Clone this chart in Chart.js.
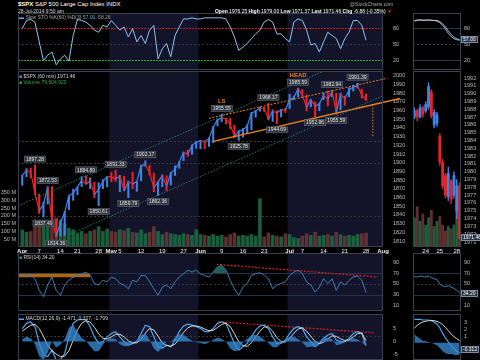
<!DOCTYPE html>
<html>
<head>
<meta charset="utf-8">
<script src="https://cdn.jsdelivr.net/npm/chart.js@4.4.1/dist/chart.umd.min.js"></script>
<style>
html, body { margin: 0; background: #000; width: 480px; height: 360px; overflow: hidden; font-family: "Liberation Sans", Arial, sans-serif; }
canvas { position: absolute; }
.t { position: absolute; white-space: nowrap; color: #d8d8d8; font-size: 5px; line-height: 6px; }
.vb { position: absolute; background: #2b3442; border: 1px solid #7d8ca3; color: #fff; font-size: 5px; line-height: 5px; padding: 0 1px; }
</style>
</head>
<body>
<canvas id="cSto" width="412" height="57" style="left:0;top:13px"></canvas>
<canvas id="cPrice" width="412" height="185" style="left:0;top:71px"></canvas>
<canvas id="cRsi" width="412" height="58" style="left:0;top:253px"></canvas>
<canvas id="cMacd" width="412" height="46" style="left:0;top:314px"></canvas>
<canvas id="mSto" width="75" height="57" style="left:405px;top:13px"></canvas>
<canvas id="mPrice" width="75" height="185" style="left:405px;top:71px"></canvas>
<canvas id="mRsi" width="75" height="58" style="left:405px;top:253px"></canvas>
<canvas id="mMacd" width="75" height="46" style="left:405px;top:314px"></canvas>

<div class="t" style="left:18px;top:1px;font-size:6px;line-height:7px;color:#fff"><b>$SPX</b> S&amp;P 500 Large Cap Index INDX</div>
<div class="t" style="left:18px;top:8px">28-Jul-2014 9:50 am</div>
<div class="t" style="left:350px;top:1px;color:#aaa">@StockCharts.com</div>
<div class="t" style="right:88px;top:8px;color:#fff"><b>Open</b> 1976.25 <b>High</b> 1979.00 <b>Low</b> 1971.37 <b>Last</b> 1971.46 <b>Chg</b> -6.88 (-0.35%)<span style="color:#e22"> ▼</span></div>
<div class="t" style="left:19px;top:14px;color:#aaa"><span style="color:#6aa8e0">▬</span> Slow STO %K(60) %D(3) <span style="color:#6aa8e0">57.00</span>, 58.26</div>
<div class="t" style="left:19px;top:73px"><span style="color:#4a8be8">■</span> $SPX (60 min) 1971.46</div>
<div class="t" style="left:19px;top:79px;color:#2ea84f"><span>■</span> Volume 79,604,920</div>
<div class="t" style="left:19px;top:254px"><span style="color:#3f7fb5">■</span> RSI(14) 34.20</div>
<div class="t" style="left:19px;top:315px"><span style="color:#4fa8ee">▬</span> MACD(12,26,9) -1.471, 0.327, -1.799</div>
<div class="vb" style="left:461px;top:36px">57.00</div>
<div class="vb" style="left:461px;top:234px">1971.46</div>
<div class="vb" style="left:461px;top:290px">34.20</div>
<div class="vb" style="left:461px;top:346px">-0.312</div>

<script>
// ---- daily data, 1 Apr .. 28 Jul 2014 (index = trading day) ----
const priceHigh = [1885.8,1893.2,1893.8,1897.3,1864.0,1854.9,1872.5,1872.5,1835.1,1834.2,
    1844.0,1862.3,1869.6,1871.9,1884.1,1884.9,1882.5,1877.7,1877.0,1880.6,
    1884.1,1888.6,1891.3,1885.5,1884.5,1878.8,1889.1,1878.6,1897.1,1902.2,
    1897.1,1888.0,1878.0,1886.0,1884.9,1888.8,1896.3,1901.3,1912.3,1914.5,
    1920.3,1924.0,1925.9,1925.1,1928.6,1941.7,1949.4,1955.6,1950.9,1950.8,
    1943.4,1937.3,1939.3,1943.7,1957.7,1960.0,1963.9,1963.7,1968.2,1960.8,
    1959.9,1961.5,1962.3,1978.6,1976.7,1985.6,1984.1,1977.9,1973.0,1969.8,
    1968.7,1979.9,1982.5,1982.9,1979.8,1979.9,1976.4,1986.2,1989.2,1991.4,
    1984.6,1979.0];
const priceLow = [1874.0,1883.8,1882.6,1863.3,1841.5,1837.5,1852.4,1831.9,1814.4,1815.8,
    1816.3,1846.1,1856.7,1863.2,1872.6,1875.0,1870.2,1859.7,1850.6,1870.0,
    1872.2,1878.0,1878.5,1866.8,1867.5,1859.8,1870.1,1867.1,1879.0,1896.0,
    1885.8,1866.5,1862.4,1872.4,1868.1,1874.3,1885.4,1893.6,1902.2,1907.3,
    1909.8,1916.6,1915.9,1916.0,1918.6,1922.9,1942.4,1947.2,1944.6,1939.3,
    1928.5,1925.8,1929.4,1933.6,1937.9,1952.3,1959.2,1958.9,1949.0,1947.5,
    1944.7,1952.6,1957.6,1962.3,1972.6,1975.7,1975.7,1959.5,1964.2,1952.9,
    1959.6,1972.6,1965.3,1975.7,1955.6,1960.8,1965.8,1975.7,1982.4,1985.8,
    1974.3,1971.4];
const priceClose = [1885.5,1890.9,1888.8,1865.1,1845.0,1852.0,1872.2,1833.1,1815.7,1830.6,
    1843.0,1862.3,1864.9,1871.9,1879.6,1875.4,1878.6,1863.4,1869.4,1878.3,
    1884.0,1883.7,1881.1,1884.7,1867.7,1878.2,1875.6,1878.5,1896.7,1897.5,
    1888.5,1870.9,1877.9,1885.1,1872.8,1888.0,1892.5,1900.5,1911.9,1909.8,
    1920.0,1923.6,1925.0,1924.2,1927.9,1940.5,1949.4,1951.3,1950.8,1943.9,
    1930.1,1936.2,1937.8,1942.0,1957.0,1959.5,1962.9,1962.6,1950.0,1959.5,
    1957.2,1961.0,1960.2,1973.3,1974.6,1985.4,1977.7,1963.7,1972.8,1964.7,
    1967.6,1977.1,1973.3,1981.6,1958.1,1978.2,1973.6,1983.5,1987.0,1988.0,
    1978.3,1971.5];
const volume = [110,95,100,150,160,150,130,170,185,160,
    150,120,110,90,100,85,100,110,130,100,
    115,100,95,110,105,120,95,90,110,85,
    95,130,100,80,95,85,80,75,85,80,
    75,110,80,75,70,80,70,75,65,80,
    90,70,75,70,80,70,310,65,90,75,
    70,65,85,80,60,55,70,85,75,95,
    70,75,80,70,95,80,70,75,70,80,
    85,90];
const stoK = [79,94,96,91,54,19,29,35,11,22,
    29,18,66,96,94,91,85,76,72,85,
    82,94,85,76,82,63,79,54,66,51,
    76,85,22,41,51,26,66,82,97,97,
    99,97,97,99,99,99,99,99,97,82,
    63,38,44,51,60,69,76,91,96,91,
    69,69,60,54,91,97,94,76,48,51,
    35,54,72,66,60,41,60,72,94,94,
    85,57];
const rsi = [66,63,67,60,38,26,48,63,38,29,
    48,57,63,65,69,72,66,51,48,57,
    54,63,60,51,48,41,57,54,66,66,
    54,41,29,44,48,41,54,63,69,76,
    72,76,69,66,63,72,82,85,76,57,
    41,29,44,51,66,69,71,67,60,41,
    48,51,54,66,72,76,69,54,48,35,
    44,60,51,60,38,54,48,57,63,65,
    57,34];
const macd = [5.0,7.0,7.6,5.7,-0.7,-5.2,-5.8,-3.3,-7.1,-7.0,
    -4.6,1.8,7.0,8.3,8.5,8.3,5.7,1.8,-0.7,0.0,
    1.8,3.1,3.8,1.8,0.0,-1.4,-0.7,0.0,3.1,6.3,
    5.7,1.8,-2.0,-2.6,-1.4,-2.0,0.6,3.8,6.0,6.7,
    6.3,5.7,5.0,3.8,3.8,5.0,7.0,7.6,7.0,3.1,
    -0.7,-3.3,-2.0,-0.7,1.8,4.4,6.0,6.3,5.0,1.8,
    -0.7,-0.7,0.6,3.1,5.0,5.7,5.0,1.8,0.0,-2.0,
    -0.7,1.2,2.5,3.1,0.6,0.0,0.0,1.2,3.1,3.8,
    3.1,-1.5];
const macdSignal = [4.0,5.2,6.3,6.6,5.0,2.0,-1.5,-3.5,-4.8,-5.8,
    -5.6,-3.5,0.5,4.5,7.0,8.0,7.5,5.5,3.0,1.2,
    1.0,1.8,2.8,2.8,1.8,0.3,-0.5,-0.5,0.8,3.2,
    5.0,4.5,2.0,-0.5,-1.5,-1.8,-1.0,1.0,3.5,5.3,
    6.0,6.0,5.6,4.8,4.2,4.3,5.4,6.6,7.1,5.8,
    3.0,0.0,-1.6,-1.8,-0.5,1.8,4.0,5.6,5.6,4.0,
    1.5,0.0,-0.2,1.2,3.2,4.8,5.3,4.0,2.0,0.0,
    -0.8,-0.3,1.0,2.2,2.0,1.0,0.4,0.6,1.8,3.0,
    3.3,0.3];
const macdHist = [1.0,1.8,1.3,-0.9,-5.7,-7.2,-4.3,0.2,-2.3,-1.2,
    1.0,5.3,6.5,3.8,1.5,0.3,-1.8,-3.7,-3.7,-1.2,
    0.8,1.3,1.0,-1.0,-1.8,-1.7,-0.2,0.5,2.3,3.1,
    0.7,-2.7,-4.0,-2.1,0.1,-0.2,1.6,2.8,2.5,1.4,
    0.3,-0.3,-0.6,-1.0,-0.4,0.7,1.6,1.0,-0.1,-2.7,
    -3.7,-3.3,-0.4,1.1,2.3,2.6,2.0,0.7,-0.6,-2.2,
    -2.2,-0.7,0.8,1.9,1.8,0.9,-0.3,-2.2,-2.0,-2.0,
    0.1,1.5,1.5,0.9,-1.4,-1.0,-0.4,0.6,1.3,0.8,
    -0.2,-1.8];

const xTickIdx = [0, 4, 9, 13, 18, 21, 23, 28, 33, 38, 42, 47, 52, 57, 63, 66, 71, 76, 81, 85];
const xTickLbl = ['Apr', '7', '14', '21', '28', 'May', '5', '12', '19', '27', 'Jun', '9', '16', '23', 'Jul', '7', '14', '21', '28', 'Aug'];
const monthNames = ['Apr', 'May', 'Jun', 'Jul', 'Aug'];
const monthBands = [[20.5, 41.5], [62.5, 86]];   // May and July shading
const X_MIN = -1, X_MAX = 85;

const priceTicks = [1810,1820,1830,1840,1850,1860,1870,1880,1890,1900,1910,1920,1930,1940,1950,1960,1970,1980,1990,2000];
const volTicks = [50, 100, 150, 200, 250, 300, 350];
const stoTicks = [20, 50, 80];
const rsiTicks = [10, 30, 50, 70, 90];
const macdTicks = [-5, 0, 5];

// pivot labels
const pivotDay   = [3, 6, 5, 8, 15, 18, 22, 25, 29, 32, 47, 51, 58, 60, 65, 69, 73, 74, 79];
const pivotPrice = [1897.28, 1872.53, 1837.49, 1814.36, 1884.89, 1850.61, 1891.33, 1859.79, 1902.17, 1862.36,
    1955.55, 1925.78, 1968.17, 1944.69, 1985.59, 1952.86, 1982.94, 1955.59, 1991.39];
const pivotHigh  = [1, 1, 0, 0, 1, 0, 1, 0, 1, 0, 1, 0, 1, 0, 1, 0, 1, 0, 1];
const pivotTag   = ['', '', '', '', '', '', '', '', '', '', 'LS', '', '', '', 'HEAD', '', '', '', 'RS'];

// trend lines [day, value]
const upperTeal = [[-1.6, 1849], [71.3, 2005.9]];
const lowerTeal = [[10.8, 1816.9], [87.8, 1983]];
const shoulderLine = [[44, 1951], [86, 1997]];
const neckLine = [[45, 1924.5], [89, 1973.8]];
const targetLine = [[82.6, 1966.7], [82.6, 1928.7]];
const rsiBand = [[-1, 66], [16, 66]];
const rsiTrend = [[45.8, 86.8], [83.8, 63]];
const rsiFillRange = [45, 48];
const macdTrend = [[46.2, 7.6], [82.7, 3.4]];

// right hand mini panel (last three sessions)
const miniOpen  = [1987.0,1987.8,1987.0,1988.2,1987.8,1988.3,1990.2,1986.0,1986.2,1984.5,1981.2,1979.5,1976.8,1978.8,1977.0,1975.0,1978.2];
const miniClose = [1987.8,1987.0,1988.2,1987.4,1988.6,1990.9,1987.2,1987.6,1987.3,1981.2,1978.2,1977.0,1979.8,1976.5,1979.5,1978.2,1971.5];
const miniHigh  = [1988.2,1988.0,1988.6,1988.4,1989.0,1991.4,1990.5,1988.0,1987.6,1984.9,1981.6,1979.8,1980.6,1979.0,1980.0,1979.0,1978.6];
const miniLow   = [1986.8,1986.5,1986.9,1987.0,1987.6,1988.0,1986.9,1985.6,1985.8,1980.8,1977.8,1976.6,1976.3,1975.9,1976.6,1974.0,1971.4];
const miniVol   = [40,55,35,45,30,40,50,28,35,42,30,22,28,25,30,65,35];
const miniStoK  = [94,95,95,94,95,95,94,94,93,90,85,78,70,64,60,58,57];
const miniStoD  = [93,94,95,95,94,95,95,94,94,92,88,82,75,68,63,60,58];
const miniRsi   = [64,63,65,64,63,65,62,60,58,50,46,45,47,44,42,38,34];
const miniMacd  = [3.5,3.5,3.5,3.4,3.4,3.4,3.3,3.1,2.8,2.2,1.4,0.7,0.1,-0.4,-0.9,-1.3,-1.5];
const miniSig   = [2.2,2.6,2.9,3.1,3.2,3.3,3.3,3.3,3.2,3.0,2.7,2.3,1.8,1.3,0.9,0.6,0.3];
const miniHist  = [1.3,0.9,0.6,0.3,0.2,0.1,0.0,-0.2,-0.4,-0.8,-1.3,-1.6,-1.7,-1.7,-1.8,-1.9,-1.8];
const miniTickIdx = [4, 9, 15];
const miniTickLbl = ['24', '25', '28'];
const miniPriceTicks = [1971,1972,1973,1974,1975,1976,1977,1978,1979,1980,1981,1982,1983,1984,1985,1986,1987,1988,1989,1990,1991,1992];

const BLUE = '#3f84e6', RED = '#e8232a', ORANGE = '#e8801c', TEAL = '#1d7a78';
const FONT = '"Liberation Sans", Arial, sans-serif';

Chart.defaults.font.family = FONT;
Chart.defaults.font.size = 5.5;
Chart.defaults.color = '#bdbdbd';
Chart.defaults.animation = false;
Chart.defaults.responsive = false;
Chart.defaults.plugins.legend.display = false;
Chart.defaults.plugins.tooltip.enabled = false;
Chart.defaults.elements.point.radius = 0;
Chart.defaults.elements.line.borderWidth = 1;

// ---- plugins ----
const bandPlugin = {
    id: 'bands',
    beforeDatasetsDraw(chart, args, opts) {
        if (!opts || !opts.on) return;
        const { ctx, chartArea: a, scales: { x } } = chart;
        ctx.save();
        ctx.fillStyle = '#13132a';
        monthBands.forEach(([s, e]) => {
            const x0 = Math.max(a.left, x.getPixelForValue(s));
            const x1 = Math.min(a.right, x.getPixelForValue(e));
            ctx.fillRect(x0, a.top, x1 - x0, a.bottom - a.top);
        });
        ctx.restore();
    }
};

const hlinePlugin = {
    id: 'hlines',
    beforeDatasetsDraw(chart, args, opts) {
        if (!opts || !opts.lines) return;
        const { ctx, chartArea: a } = chart;
        opts.lines.forEach(l => {
            const y = Math.round(chart.scales[l.axis || 'y'].getPixelForValue(l.v)) + 0.5;
            ctx.save();
            ctx.strokeStyle = l.color;
            ctx.lineWidth = l.w || 1;
            ctx.setLineDash(l.dash || []);
            ctx.beginPath(); ctx.moveTo(a.left, y); ctx.lineTo(a.right, y); ctx.stroke();
            ctx.restore();
        });
    }
};

const framePlugin = {
    id: 'frame',
    afterDraw(chart) {
        const { ctx, chartArea: a } = chart;
        ctx.save();
        ctx.strokeStyle = '#3a4252';
        ctx.lineWidth = 1;
        ctx.strokeRect(a.left + 0.5, a.top + 0.5, a.right - a.left - 1, a.bottom - a.top - 1);
        ctx.restore();
    }
};

Chart.register(bandPlugin, hlinePlugin, framePlugin);

const pivotPlugin = {
    id: 'pivots',
    afterDatasetsDraw(chart) {
        const { ctx, scales: { x, y } } = chart;
        ctx.save();
        ctx.textAlign = 'center';
        ctx.textBaseline = 'middle';
        pivotDay.forEach((d, i) => {
            const px = x.getPixelForValue(d);
            const py = y.getPixelForValue(pivotPrice[i]);
            const txt = pivotPrice[i].toFixed(2);
            ctx.font = '5px ' + FONT;
            const w = ctx.measureText(txt).width + 3, h = 6;
            const cy = pivotHigh[i] ? py - 6 : py + 6;
            ctx.fillStyle = '#2d323b';
            ctx.strokeStyle = '#6b717c';
            ctx.lineWidth = 0.6;
            ctx.fillRect(px - w / 2, cy - h / 2, w, h);
            ctx.strokeRect(px - w / 2, cy - h / 2, w, h);
            ctx.fillStyle = '#e6e6e6';
            ctx.fillText(txt, px, cy + 0.3);
            if (pivotTag[i]) {
                ctx.font = 'bold 6px ' + FONT;
                ctx.fillStyle = ORANGE;
                ctx.fillText(pivotTag[i], px, cy - 7);
            }
        });
        ctx.restore();
    }
};

// ---- helpers ----
const pts = arr => arr.map(([x, y]) => ({ x, y }));
const series = arr => arr.map((v, i) => ({ x: i, y: v }));
const noPad = s => { s.paddingLeft = 0; s.paddingRight = 0; s.paddingTop = 0; s.paddingBottom = 0; };

function timeAxis(withLabels) {
    const ax = { type: 'linear', min: X_MIN, max: X_MAX, offset: false, display: withLabels,
        grid: { display: false, drawTicks: false }, border: { display: false } };
    if (withLabels) {
        ax.afterBuildTicks = s => { s.ticks = xTickIdx.map(v => ({ value: v })); };
        ax.afterFit = s => { s.height = 9; noPad(s); };
        ax.ticks = {
            autoSkip: false, maxRotation: 0, padding: 1, color: '#eeeeee',
            font: c => ({ size: 6, weight: monthNames.includes(xTickLbl[c.index]) ? 'bold' : 'normal' }),
            callback: (v, i) => xTickLbl[i]
        };
    }
    return ax;
}

function sideAxis(min, max, ticks, width, fmt, pos) {
    const gap = pos === 'left' ? 0 : (width > 20 ? 8 : 1);
    return {
        position: pos || 'right', min, max,
        afterBuildTicks: s => { s.ticks = ticks.map(v => ({ value: v })); },
        afterFit: s => { s.width = width; noPad(s); },
        grid: { display: false, drawTicks: true, tickLength: gap },
        border: { display: false },
        ticks: { autoSkip: false, padding: 2, color: '#bbbbbb', font: { size: 5.5 }, callback: fmt || (v => v) }
    };
}

// ---- STO panel ----
new Chart(document.getElementById('cSto'), {
    type: 'line',
    data: { datasets: [{ data: series(stoK), borderColor: '#8cc4f0', borderWidth: 1 }] },
    options: {
        layout: { padding: { left: 18 } },
        scales: { x: timeAxis(false), y: sideAxis(1.25, 108.1, stoTicks, 29) },
        plugins: {
            bands: { on: true },
            hlines: { lines: [
                { v: 80, color: '#d0101a', dash: [2, 1], w: 1.2 },
                { v: 50, color: '#2c3a58', dash: [2, 2] },
                { v: 20, color: '#1cb51c', dash: [2, 1], w: 1.2 }
            ] }
        }
    }
});

// ---- price + volume panel ----
const dayColors = priceClose.map((c, i) => c >= (i ? priceClose[i - 1] : c) ? BLUE : RED);
const volColors = priceClose.map((c, i) => c >= (i ? priceClose[i - 1] : c) ? 'rgba(30,110,70,0.85)' : 'rgba(110,55,55,0.85)');

new Chart(document.getElementById('cPrice'), {
    type: 'bar',
    data: {
        datasets: [
            { type: 'bar', yAxisID: 'vol', data: series(volume), backgroundColor: volColors, barThickness: 3, grouped: false, order: 10 },
            { type: 'bar', yAxisID: 'y', data: priceHigh.map((h, i) => ({ x: i, y: [priceLow[i], h] })),
              backgroundColor: dayColors, barThickness: 1.4, grouped: false, order: 6 },
            { type: 'line', yAxisID: 'y', data: series(priceClose), borderWidth: 1.2, order: 5,
              segment: { borderColor: c => c.p1.parsed.y >= c.p0.parsed.y ? BLUE : RED } },
            { type: 'line', yAxisID: 'y', data: pts(upperTeal), borderColor: TEAL, borderDash: [1.5, 1.5], order: 1 },
            { type: 'line', yAxisID: 'y', data: pts(lowerTeal), borderColor: TEAL, borderDash: [1.5, 1.5], order: 1 },
            { type: 'line', yAxisID: 'y', data: pts(shoulderLine), borderColor: ORANGE, borderDash: [2, 1.5], clip: false, order: 1 },
            { type: 'line', yAxisID: 'y', data: pts(neckLine), borderColor: ORANGE, borderWidth: 1.4, clip: false, order: 1 },
            { type: 'line', yAxisID: 'y', data: pts(targetLine), borderColor: ORANGE, borderDash: [1.5, 1.5], order: 1 }
        ]
    },
    options: {
        scales: {
            x: timeAxis(true),
            y: sideAxis(1803.1, 2005.4, priceTicks, 29),
            vol: sideAxis(0, 1128, volTicks, 18, v => v + ' M', 'left')
        },
        plugins: {
            bands: { on: true },
            hlines: { lines: [
                { v: 1925, color: '#3a3a3a', dash: [2, 2] },
                { v: 1900, color: '#3a3a3a', dash: [2, 2] },
                { axis: 'vol', v: 200, color: '#3a3a3a', dash: [2, 2] }
            ] }
        }
    },
    plugins: [pivotPlugin]
});

// ---- RSI panel ----
new Chart(document.getElementById('cRsi'), {
    type: 'line',
    data: {
        datasets: [
            { data: series(rsi).slice(rsiFillRange[0], rsiFillRange[1] + 1), borderWidth: 0,
              fill: { target: { value: 70 }, above: 'rgba(35,115,100,0.85)', below: 'rgba(0,0,0,0)' } },
            { data: series(rsi), borderColor: '#3f7fb5', borderWidth: 1 },
            { data: pts(rsiBand), borderColor: 'rgba(205,120,25,0.85)', borderWidth: 3.5 },
            { data: pts(rsiTrend), borderColor: '#d81e1e', borderDash: [2, 1.5], borderWidth: 1.2 }
        ]
    },
    options: {
        layout: { padding: { left: 18 } },
        scales: { x: timeAxis(false), y: sideAxis(-0.5, 107.9, rsiTicks, 29) },
        plugins: {
            bands: { on: true },
            hlines: { lines: [
                { v: 70, color: '#22324a' },
                { v: 50, color: '#2b3a55', dash: [2, 2] },
                { v: 30, color: '#22324a' },
                { v: 2, color: '#3a3a3a', dash: [2, 2] }
            ] }
        }
    }
});

// ---- MACD panel ----
new Chart(document.getElementById('cMacd'), {
    type: 'line',
    data: {
        datasets: [
            { data: series(macdHist), borderWidth: 0, fill: 'origin', backgroundColor: 'rgba(55,135,205,0.8)' },
            { data: series(macdSignal), borderColor: '#d8d8d8', borderWidth: 1 },
            { data: series(macd), borderColor: '#4fa8ee', borderWidth: 1.2 },
            { data: pts(macdTrend), borderColor: '#d81e1e', borderDash: [2, 1.5], borderWidth: 1.2 }
        ]
    },
    options: {
        layout: { padding: { left: 18 } },
        scales: { x: timeAxis(false), y: sideAxis(-7.1, 10.6, macdTicks, 29) },
        plugins: {
            bands: { on: true },
            hlines: { lines: [{ v: 2, color: '#3a3a3a', dash: [2, 2] }] }
        }
    }
});

// ---- right mini panels ----
function miniX(withLabels) {
    const ax = { type: 'linear', min: -0.5, max: miniClose.length - 0.5, offset: false, display: withLabels,
        grid: { display: false, drawTicks: false }, border: { display: false } };
    if (withLabels) {
        ax.afterBuildTicks = s => { s.ticks = miniTickIdx.map(v => ({ value: v })); };
        ax.afterFit = s => { s.height = 9; noPad(s); };
        ax.ticks = { autoSkip: false, maxRotation: 0, padding: 1, color: '#eeeeee', font: { size: 6 }, callback: (v, i) => miniTickLbl[i] };
    }
    return ax;
}
const miniUp = miniClose.map((c, i) => c >= miniOpen[i]);

new Chart(document.getElementById('mSto'), {
    type: 'line',
    data: { datasets: [
        { data: series(miniStoD), borderColor: '#d0d0d0', borderWidth: 0.8 },
        { data: series(miniStoK), borderColor: '#8cc4f0', borderWidth: 1 }
    ] },
    options: {
        layout: { padding: { left: 8 } },
        scales: { x: miniX(false), y: sideAxis(1.25, 108.1, stoTicks, 19) },
        plugins: { hlines: { lines: [
            { v: 80, color: '#2e3848' }, { v: 50, color: '#2c3a58', dash: [2, 2] }, { v: 20, color: '#2e3848' }
        ] } }
    }
});

new Chart(document.getElementById('mPrice'), {
    type: 'bar',
    data: { datasets: [
        { type: 'bar', yAxisID: 'vol', data: series(miniVol), grouped: false, barThickness: 2.2, order: 10,
          backgroundColor: miniUp.map(u => u ? 'rgba(30,110,70,0.85)' : 'rgba(110,55,55,0.85)') },
        { type: 'bar', data: miniHigh.map((h, i) => ({ x: i, y: [miniLow[i], h] })), grouped: false, barThickness: 0.8, order: 6,
          backgroundColor: miniUp.map(u => u ? BLUE : RED) },
        { type: 'bar', data: miniOpen.map((o, i) => ({ x: i, y: [o, miniClose[i]] })), grouped: false, barThickness: 2.2, order: 5,
          backgroundColor: miniUp.map(u => u ? BLUE : RED) }
    ] },
    options: {
        layout: { padding: { left: 8 } },
        scales: {
            x: miniX(true),
            y: sideAxis(1970.36, 1992.9, miniPriceTicks, 19),
            vol: { display: false, min: 0, max: 240 }
        }
    }
});

new Chart(document.getElementById('mRsi'), {
    type: 'line',
    data: { datasets: [{ data: series(miniRsi), borderColor: '#3f7fb5', borderWidth: 1 }] },
    options: {
        layout: { padding: { left: 8 } },
        scales: { x: miniX(false), y: sideAxis(-0.5, 107.9, rsiTicks, 19) },
        plugins: { hlines: { lines: [
            { v: 70, color: '#22324a' }, { v: 50, color: '#2b3a55', dash: [2, 2] }, { v: 30, color: '#22324a' }
        ] } }
    }
});

new Chart(document.getElementById('mMacd'), {
    type: 'line',
    data: { datasets: [
        { data: series(miniHist), borderWidth: 0, fill: 'origin', backgroundColor: 'rgba(55,135,205,0.8)' },
        { data: series(miniSig), borderColor: '#d8d8d8', borderWidth: 1 },
        { data: series(miniMacd), borderColor: '#4fa8ee', borderWidth: 1.2 }
    ] },
    options: {
        layout: { padding: { left: 8 } },
        scales: { x: miniX(false), y: sideAxis(-2.6, 4.3, [1, 2, 3], 19) }
    }
});
</script>
</body>
</html>
